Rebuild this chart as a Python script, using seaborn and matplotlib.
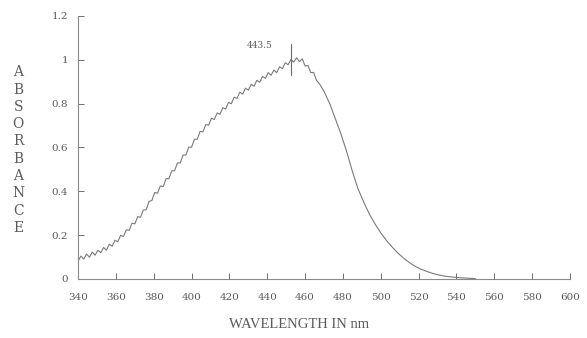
import pandas as pd
import matplotlib.pyplot as plt
import seaborn as sns

# wavelengths (nm) and absorbance readings
wavelength = [
    340.0, 341.5, 343.0, 344.5, 346.0, 347.5, 349.0, 350.5, 352.0, 353.5,
    355.0, 356.5, 358.0, 359.5, 361.0, 362.5, 364.0, 365.5, 367.0, 368.5,
    370.0, 371.5, 373.0, 374.5, 376.0, 377.5, 379.0, 380.5, 382.0, 383.5,
    385.0, 386.5, 388.0, 389.5, 391.0, 392.5, 394.0, 395.5, 397.0, 398.5,
    400.0, 401.5, 403.0, 404.5, 406.0, 407.5, 409.0, 410.5, 412.0, 413.5,
    415.0, 416.5, 418.0, 419.5, 421.0, 422.5, 424.0, 425.5, 427.0, 428.5,
    430.0, 431.5, 433.0, 434.5, 436.0, 437.5, 439.0, 440.5, 442.0, 443.5,
    445.0, 446.5, 448.0, 449.5, 451.0, 452.5, 454.0, 455.5, 457.0, 458.5,
    460.0, 461.5, 463.0, 464.5, 466.0, 468.0, 470.0, 473.0, 476.0, 479.0,
    482.0, 485.0, 488.0, 491.0, 494.0, 497.0, 500.0, 503.0, 506.0, 509.0,
    512.0, 515.0, 518.0, 521.0, 524.0, 527.0, 530.0, 534.0, 538.0, 542.0,
    546.0, 550.0,
]
absorbance = [
    0.081, 0.104, 0.090, 0.113, 0.099, 0.122, 0.108, 0.131, 0.119, 0.143,
    0.131, 0.158, 0.149, 0.176, 0.169, 0.199, 0.193, 0.224, 0.221, 0.254,
    0.251, 0.284, 0.281, 0.314, 0.315, 0.354, 0.357, 0.394, 0.391, 0.424,
    0.421, 0.457, 0.457, 0.493, 0.493, 0.529, 0.529, 0.565, 0.565, 0.601,
    0.601, 0.637, 0.637, 0.673, 0.671, 0.704, 0.701, 0.733, 0.727, 0.757,
    0.751, 0.781, 0.775, 0.805, 0.799, 0.829, 0.823, 0.852, 0.843, 0.870,
    0.861, 0.888, 0.879, 0.906, 0.897, 0.924, 0.915, 0.941, 0.929, 0.953,
    0.941, 0.968, 0.959, 0.986, 0.977, 1.001, 0.989, 1.009, 0.991, 1.004,
    0.971, 0.974, 0.941, 0.942, 0.906, 0.885, 0.855, 0.800, 0.730, 0.660,
    0.580, 0.490, 0.410, 0.350, 0.295, 0.250, 0.210, 0.175, 0.145, 0.118,
    0.095, 0.075, 0.058, 0.045, 0.035, 0.026, 0.019, 0.012, 0.008, 0.005,
    0.003, 0.001,
]
x_ticks = [340, 360, 380, 400, 420, 440, 460, 480, 500, 520, 540, 560, 580, 600]
y_ticks = [0, 0.2, 0.4, 0.6, 0.8, 1.0, 1.2]
y_tick_labels = ['0', '0.2', '0.4', '0.6', '0.8', '1', '1.2']
peak_label = '443.5'
peak_mark = 452.5

df = pd.DataFrame({'Wavelength': wavelength, 'Absorbance': absorbance})

sns.set_style('ticks')
plt.rcParams['font.family'] = ['DejaVu Serif']

fig = plt.figure(figsize=(5.87, 3.38), dpi=100)
ax = fig.add_axes([0.133, 0.175, 0.838, 0.778])

grey = '#6e6e6e'
sns.lineplot(x='Wavelength', y='Absorbance', data=df, ax=ax,
             color='#7a7a7a', linewidth=0.8)

ax.set_xlim(340, 600)
ax.set_ylim(0, 1.2)
ax.set_xticks(x_ticks)
ax.set_yticks(y_ticks)
ax.set_yticklabels(y_tick_labels)
ax.tick_params(direction='in', length=4, width=0.7, colors=grey,
               labelsize=7.5, labelcolor='#5a5a5a')
ax.tick_params(axis='x', pad=10)
ax.tick_params(axis='y', pad=7)
for side in ['top', 'right']:
    ax.spines[side].set_visible(False)
for side in ['left', 'bottom']:
    ax.spines[side].set_color('#8a8a8a')
    ax.spines[side].set_linewidth(0.8)

ax.set_xlabel('')
ax.set_ylabel('')

# peak marker
ax.plot([peak_mark, peak_mark], [0.93, 1.07], color='#6a6a6a', linewidth=0.8)
ax.text(436, 1.065, peak_label, fontsize=6.5, color='#5a5a5a',
        ha='center', va='center')

fig.text(0.031, 0.556, '\n'.join('ABSORBANCE'), fontsize=10,
         color='#5a5a5a', ha='center', va='center', linespacing=1.3)
fig.text(0.51, 0.04, 'WAVELENGTH IN nm', fontsize=10.5, color='#5a5a5a',
         ha='center', va='center', family='Liberation Serif')

plt.savefig('out.png', dpi=100)
